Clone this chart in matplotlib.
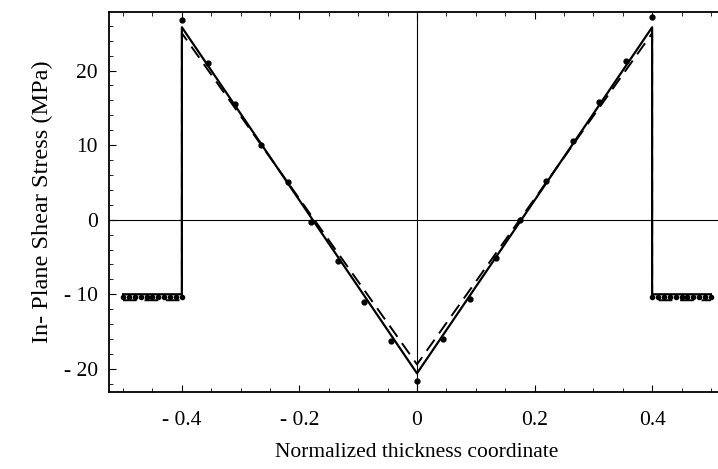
import matplotlib
matplotlib.use("Agg")
from matplotlib import pyplot as plt
from matplotlib.ticker import FixedLocator, MultipleLocator, FuncFormatter

plt.rcParams['font.family'] = ['Liberation Serif', 'DejaVu Serif']

# solid line (model 1)
solid_x = [-0.5, -0.4, -0.4, 0.0, 0.4, 0.4, 0.5]
solid_y = [-10.0, -10.0, 25.8, -20.6, 25.8, -10.0, -10.0]

# dashed line (model 2)
dash_x = [-0.5, -0.4, -0.4, 0.0, 0.4, 0.4, 0.5]
dash_y = [-10.8, -10.8, 25.0, -19.4, 25.0, -10.8, -10.8]

# dots in the core
core_x = [-0.4, -0.355, -0.31, -0.265, -0.22, -0.18, -0.135, -0.09, -0.045, 0.0,
          0.045, 0.09, 0.135, 0.175, 0.22, 0.265, 0.31, 0.355, 0.4]
core_y = [26.8, 21.0, 15.5, 10.0, 5.0, -0.3, -5.6, -11.0, -16.3, -21.6,
          -16.0, -10.6, -5.2, 0.0, 5.2, 10.5, 15.8, 21.3, 27.2]

# dots in the face sheets
face_x = [-0.5, -0.49, -0.48, -0.47, -0.46, -0.45, -0.44, -0.43, -0.42, -0.41, -0.4,
          0.4, 0.41, 0.42, 0.43, 0.44, 0.45, 0.46, 0.47, 0.48, 0.49, 0.5]
face_y = [-10.3] * 22

fig = plt.figure(figsize=(7.18, 4.69), dpi=100)
ax = fig.add_axes([109/718, 1 - 392/469, 616/718, 380/469])

ax.axhline(0, color='black', lw=0.8, zorder=1)
ax.axvline(0, color='black', lw=0.8, zorder=1)

ax.plot(solid_x, solid_y, color='black', lw=1.6, zorder=3)
ax.plot(dash_x, dash_y, color='black', lw=1.4, dashes=(7, 4), zorder=3)
ax.plot(core_x, core_y, 'o', color='black', ms=3.5, zorder=4)
ax.plot(face_x, face_y, 'o', color='black', ms=3.0, zorder=4)

ax.set_xlim(-0.524, 0.524)
ax.set_ylim(-23.1, 27.85)

ax.xaxis.set_major_locator(FixedLocator([-0.4, -0.2, 0, 0.2, 0.4]))
ax.xaxis.set_minor_locator(MultipleLocator(0.05))
ax.yaxis.set_major_locator(FixedLocator([-20, -10, 0, 10, 20]))
ax.yaxis.set_minor_locator(MultipleLocator(2))

def fmt(v, pos):
    if abs(v) < 1e-9:
        return "0"
    s = "%g" % abs(v)
    return ("- " + s) if v < 0 else s

ax.xaxis.set_major_formatter(FuncFormatter(fmt))
ax.yaxis.set_major_formatter(FuncFormatter(fmt))

ax.tick_params(which='both', direction='in', top=True, right=False, colors='black',
               labelsize=15.5)
ax.tick_params(which='major', length=5, width=0.8)
ax.tick_params(which='minor', length=3, width=0.6)
ax.tick_params(axis='y', pad=8)
ax.tick_params(axis='x', pad=14)
ax.spines['right'].set_visible(False)

for s in ax.spines.values():
    s.set_linewidth(1.3)

ax.set_xlabel("Normalized thickness coordinate", fontsize=15.5, labelpad=9)
ax.set_ylabel("In- Plane Shear Stress (MPa)", fontsize=17.5, labelpad=8)

fig.savefig("out.png", dpi=100)
